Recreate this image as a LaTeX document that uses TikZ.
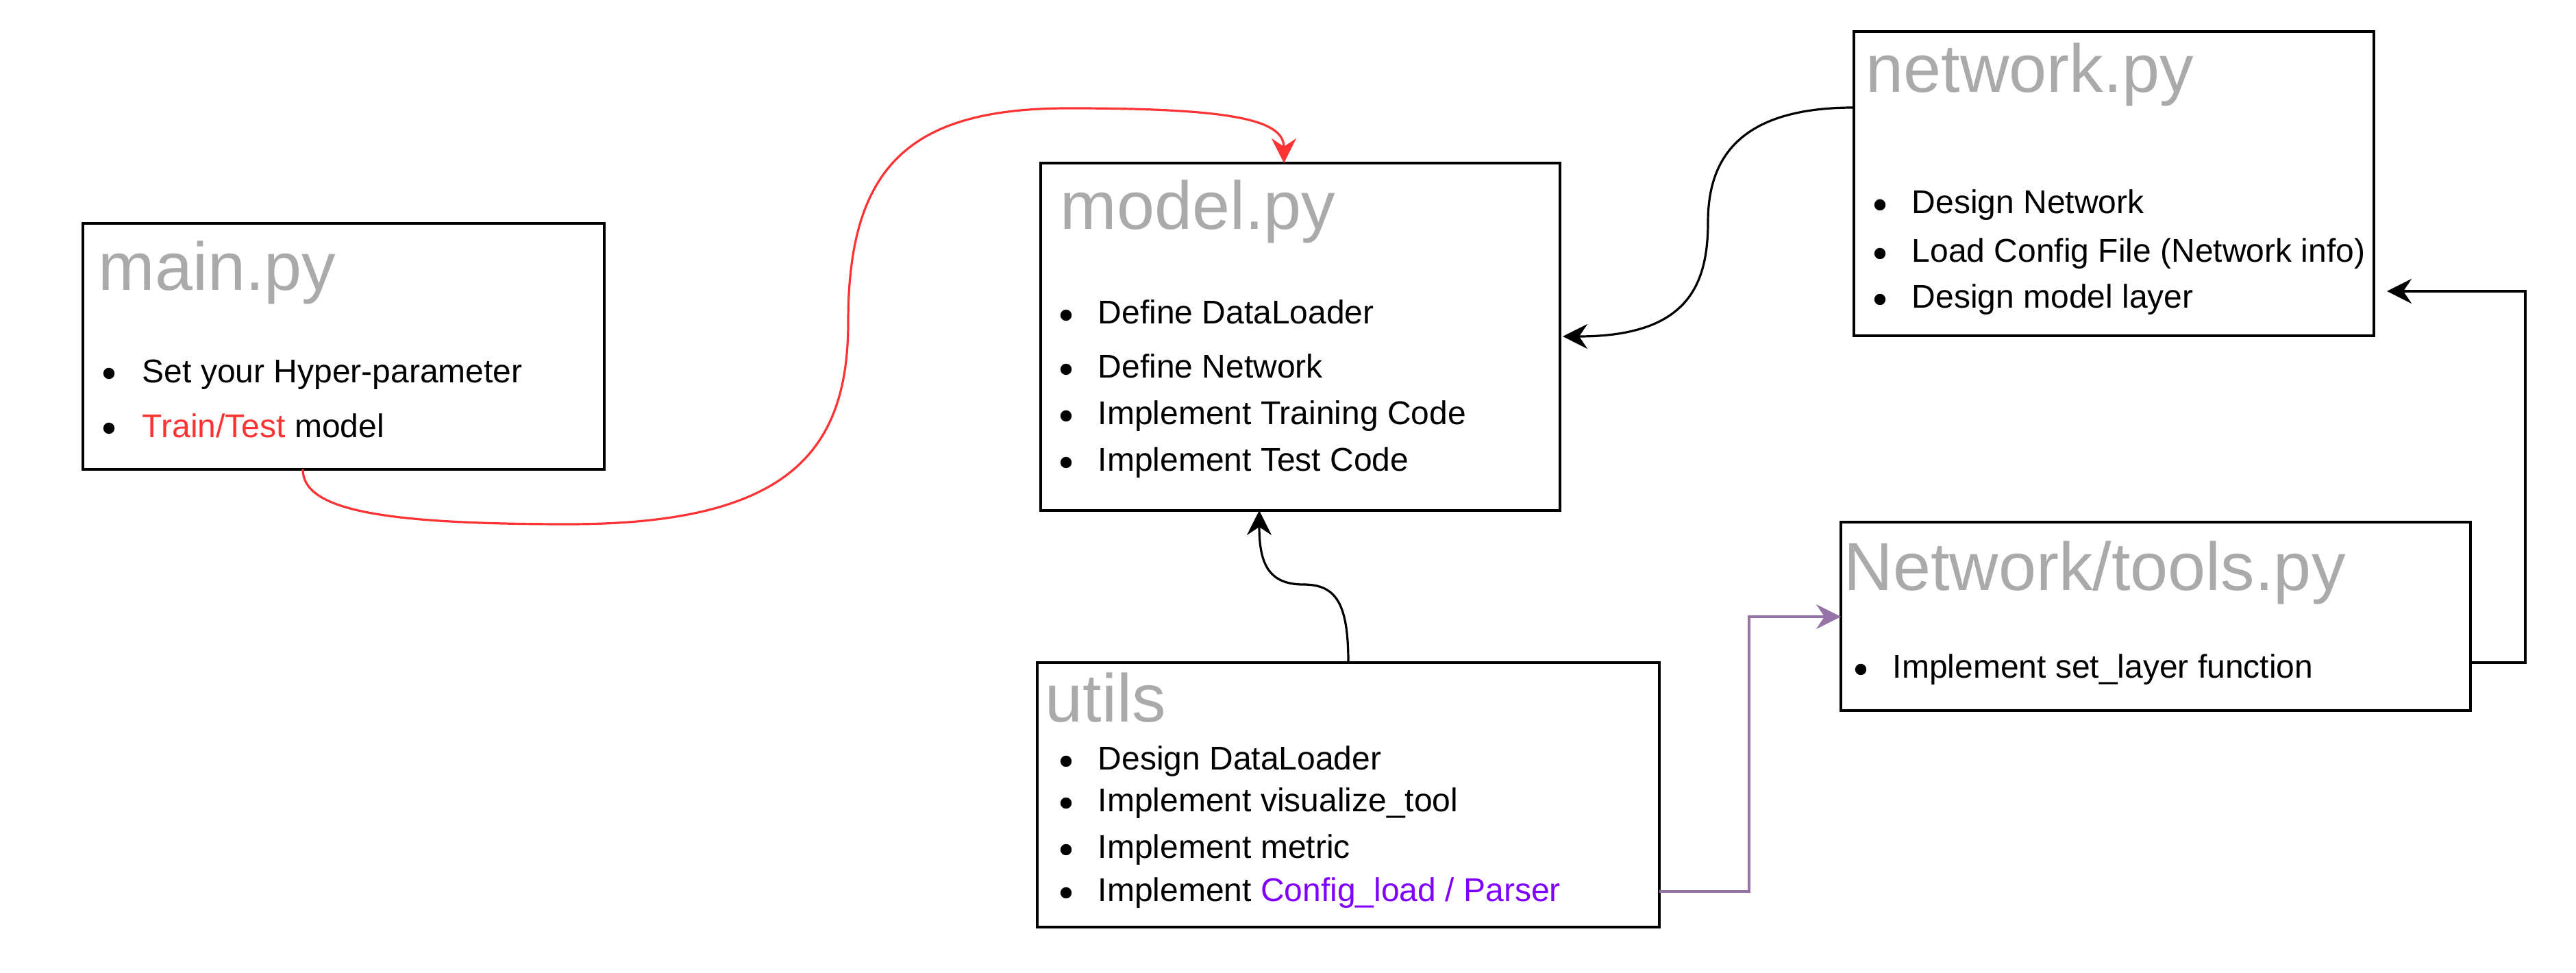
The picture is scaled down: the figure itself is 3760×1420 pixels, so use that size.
\documentclass[tikz,border=0pt]{standalone}
\usepackage{fontspec}
\setmainfont{Liberation Sans}
\usetikzlibrary{calc,arrows.meta}
\definecolor{ttlgray}{RGB}{170,170,170}
\definecolor{hlred}{HTML}{FF3333}
\definecolor{hlpurple}{HTML}{7F00FF}
\definecolor{lnpurple}{HTML}{9673A6}
\begin{document}
\begin{tikzpicture}[x=0.25pt,y=-0.25pt,
  box/.style={draw=black, line width=1.1pt, inner sep=0pt, outer sep=0pt, anchor=north west},
  ttl/.style={anchor=base west, inner sep=0pt, text=ttlgray, font=\fontsize{24.75}{30}\selectfont},
  itm/.style={anchor=base west, inner sep=0pt, font=\fontsize{12}{14.4}\selectfont},
  conn/.style={line width=0.8pt, -{Stealth[length=9pt,width=9pt,inset=3pt]}},
  bul/.style={fill=black},
]
\useasboundingbox (0,0) rectangle (3760,1420);

% boxes
\node[box, minimum width=190.25pt, minimum height=89.75pt] (main) at (121,326) {};
\node[box, minimum width=189.5pt, minimum height=126.75pt] (model) at (1519,238) {};
\node[box, minimum width=189.75pt, minimum height=111pt] (network) at (2706,46) {};
\node[box, minimum width=229.75pt, minimum height=68.75pt] (tools) at (2687,762) {};
\node[box, minimum width=227pt, minimum height=96.5pt] (utils) at (1514,967) {};

% main.py
\node[ttl] (mainT) at (143,424) {main.py};
\fill[bul] (159,545) circle (2.05pt);
\node[itm] (mainA) at (207,559) {Set your Hyper-parameter};
\fill[bul] (159,625) circle (2.05pt);
\node[itm] (mainB) at (207,639) {{\color{hlred}Train/Test} model};

% model.py
\node[ttl] (modelT) at (1547,335) {model.py};
\fill[bul] (1556,460) circle (2.05pt);
\node[itm] (modelA) at (1602,473) {Define DataLoader};
\fill[bul] (1556,539) circle (2.05pt);
\node[itm] (modelB) at (1602,552) {Define Network};
\fill[bul] (1556,607) circle (2.05pt);
\node[itm] (modelC) at (1602,620) {Implement Training Code};
\fill[bul] (1556,675) circle (2.05pt);
\node[itm] (modelD) at (1602,688) {Implement Test Code};

% network.py
\node[ttl] (netT) at (2723,135) {network.py};
\fill[bul] (2744,299) circle (2.05pt);
\node[itm] (netA) at (2790,312) {Design Network};
\fill[bul] (2744,370) circle (2.05pt);
\node[itm] (netB) at (2790,383) {Load Config File (Network info)};
\fill[bul] (2744,437) circle (2.05pt);
\node[itm] (netC) at (2790,450) {Design model layer};

% Network/tools.py
\node[ttl] (toolsT) at (2691,862) {Network/tools.py};
\fill[bul] (2716,977) circle (2.05pt);
\node[itm] (toolsA) at (2762,990) {Implement set\_layer function};

% utils
\node[ttl] (utilsT) at (1525,1054) {utils};
\fill[bul] (1556,1111) circle (2.05pt);
\node[itm] (utilsA) at (1602,1124) {Design DataLoader};
\fill[bul] (1556,1172) circle (2.05pt);
\node[itm] (utilsB) at (1602,1185) {Implement visualize\_tool};
\fill[bul] (1556,1240) circle (2.05pt);
\node[itm] (utilsC) at (1602,1253) {Implement metric};
\fill[bul] (1556,1303) circle (2.05pt);
\node[itm] (utilsD) at (1602,1316) {Implement {\color{hlpurple}Config\_load / Parser}};

% connector end points
\coordinate (redS) at ($(main.south west)+(321,0)$);
\coordinate (redE) at ($(model.north west)+(355,0)$);
\coordinate (netS) at ($(network.north west)+(0,111)$);
\coordinate (netE) at ($(model.north east)+(4,253)$);
\coordinate (utlS) at (utils.north);
\coordinate (utlE) at ($(model.south west)+(319,0)$);
\coordinate (purS) at ($(utils.north east)+(0,334)$);
\coordinate (purE) at ($(tools.north west)+(0,138)$);
\coordinate (tlsS) at ($(tools.north east)+(0,205)$);
\coordinate (tlsE) at ($(network.north east)+(19,379)$);

% red: main -> model
\draw[conn, draw=hlred] (redS)
  .. controls ($(redS)+(0,60)$) and (560,765) .. (830,765)
  .. controls (1150,765) and (1238,660) .. (1238,470)
  .. controls (1238,240) and (1330,158) .. (1560,158)
  .. controls (1800,158) and ($(redE)+(0,-63)$) .. (redE);

% black: network -> model
\draw[conn] (netS)
  .. controls (2540,157) and (2493,230) .. (2493,324)
  .. controls (2493,420) and (2460,491) .. (netE);

% black: utils -> model
\draw[conn] (utlS)
  .. controls (1968,880) and (1950,853) .. (1902,853)
  .. controls (1850,853) and (1838,820) .. (utlE);

% purple: utils -> tools
\draw[conn, draw=lnpurple] (purS) -- ++(131,0) |- (purE);

% black: tools -> network
\draw[conn, line width=0.9pt] (tlsS) -- ++(80,0) |- (tlsE);
\end{tikzpicture}
\end{document}
